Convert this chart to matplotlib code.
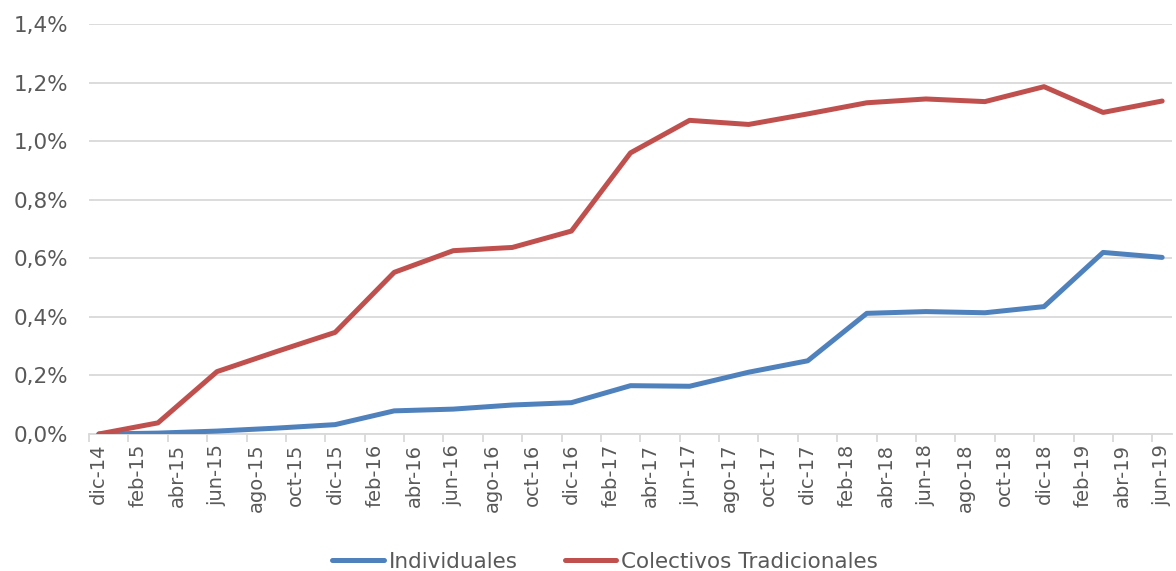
import matplotlib
matplotlib.use("Agg")
import matplotlib.pyplot as plt
from matplotlib.ticker import FuncFormatter, FixedLocator

# Month categories on the axis (labels every second month)
months = ["dic-14",
          "ene-15", "feb-15", "mar-15", "abr-15", "may-15", "jun-15", "jul-15", "ago-15", "sep-15", "oct-15", "nov-15", "dic-15",
          "ene-16", "feb-16", "mar-16", "abr-16", "may-16", "jun-16", "jul-16", "ago-16", "sep-16", "oct-16", "nov-16", "dic-16",
          "ene-17", "feb-17", "mar-17", "abr-17", "may-17", "jun-17", "jul-17", "ago-17", "sep-17", "oct-17", "nov-17", "dic-17",
          "ene-18", "feb-18", "mar-18", "abr-18", "may-18", "jun-18", "jul-18", "ago-18", "sep-18", "oct-18", "nov-18", "dic-18",
          "ene-19", "feb-19", "mar-19", "abr-19", "may-19", "jun-19"]

# Quarterly observation dates
obs_dates = ["dic-14", "mar-15", "jun-15", "sep-15", "dic-15", "mar-16", "jun-16", "sep-16", "dic-16",
             "mar-17", "jun-17", "sep-17", "dic-17", "mar-18", "jun-18", "sep-18", "dic-18", "mar-19", "jun-19"]

# Values in percent
individuales = [0.000, 0.003, 0.010, 0.020, 0.032, 0.079, 0.085, 0.099, 0.107,
                0.165, 0.163, 0.211, 0.250, 0.412, 0.418, 0.414, 0.435, 0.620, 0.603]
colectivos = [0.000, 0.038, 0.213, 0.281, 0.347, 0.552, 0.626, 0.637, 0.693,
              0.960, 1.071, 1.057, 1.093, 1.131, 1.144, 1.135, 1.186, 1.098, 1.137]

series_names = ["Individuales", "Colectivos Tradicionales"]

text_color = "#595959"
grid_color = "#D9D9D9"

fig = plt.figure(figsize=(11.76, 5.71), dpi=100)
ax = fig.add_axes([89/1176, 1-434/571, (1172-89)/1176, (434-24)/571])

x_obs = [months.index(d) for d in obs_dates]
ax.plot(x_obs, individuales, color="#4F81BD", lw=3.6, solid_capstyle="round",
        solid_joinstyle="round", label=series_names[0], zorder=3)
ax.plot(x_obs, colectivos, color="#C0504D", lw=3.6, solid_capstyle="round",
        solid_joinstyle="round", label=series_names[1], zorder=3)

ax.set_xlim(-0.5, len(months) - 0.5)
ax.set_ylim(0, 1.4)

yt = [0, 0.2, 0.4, 0.6, 0.8, 1.0, 1.2, 1.4]
ax.set_yticks(yt)
ax.yaxis.set_major_formatter(FuncFormatter(lambda v, p: f"{v:.1f}%".replace(".", ",")))
ax.grid(axis="y", color=grid_color, lw=1.3, zorder=0)

label_idx = list(range(0, len(months), 2))
ax.set_xticks(label_idx)
ax.set_xticklabels([months[i] for i in label_idx], rotation=90)
ax.xaxis.set_minor_locator(FixedLocator([i - 0.5 for i in range(0, len(months) + 1, 2)]))
ax.tick_params(axis="x", which="major", length=0, pad=7, labelsize=14, labelcolor=text_color)
ax.tick_params(axis="x", which="minor", length=6, width=1.3, color=grid_color, direction="out")
ax.tick_params(axis="y", length=0, pad=15, labelsize=15.5, labelcolor=text_color)

for s in ["top", "right", "left"]:
    ax.spines[s].set_visible(False)
ax.spines["bottom"].set_color(grid_color)
ax.spines["bottom"].set_linewidth(1.3)

fig.legend(loc="center", bbox_to_anchor=(605/1176, 1-562/571), ncol=2, frameon=False,
           fontsize=15.5, labelcolor=text_color, handlelength=2.4, handletextpad=0.2,
           columnspacing=2.2)

fig.savefig("out.png", dpi=100)
